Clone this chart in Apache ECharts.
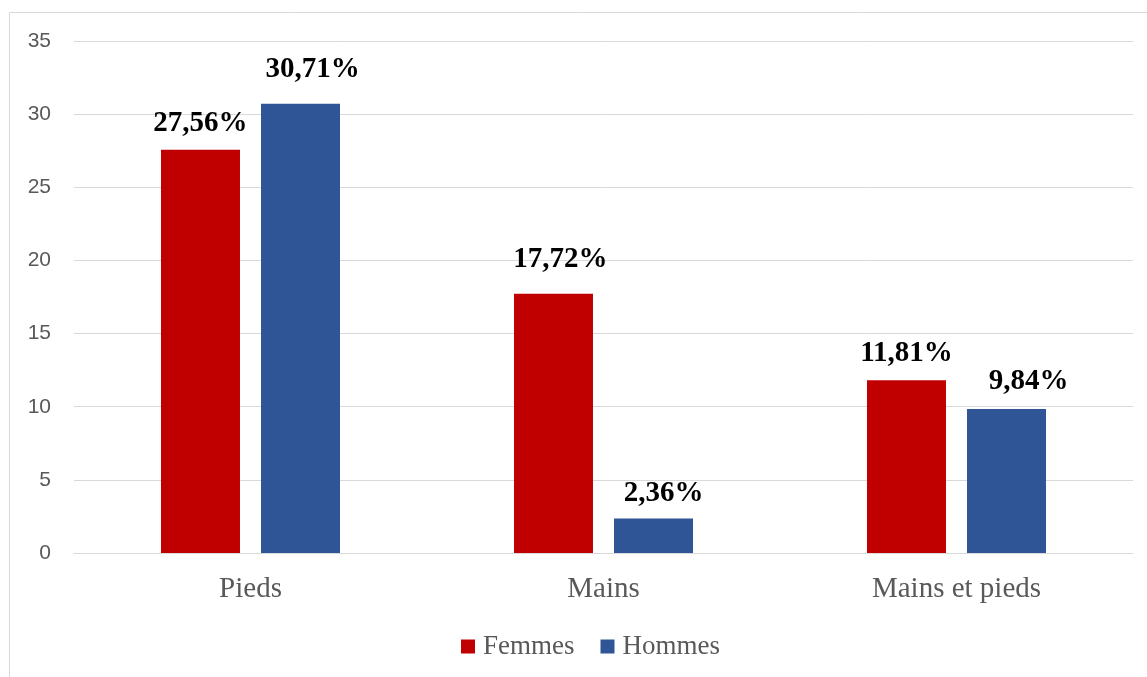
<!DOCTYPE html>
<html>
<head>
<meta charset="utf-8">
<script src="https://cdn.jsdelivr.net/npm/echarts@6/dist/echarts.min.js"></script>
<style>html,body{margin:0;padding:0;background:#fff;}#c{width:1147px;height:677px;}</style>
</head>
<body>
<div id="c"></div>
<script>
const categories = ['Pieds', 'Mains', 'Mains et pieds'];
const femmes = [27.56, 17.72, 11.81];
const hommes = [30.71, 2.36, 9.84];
const seriesNames = ['Femmes', 'Hommes'];
const yTicks = { min: 0, max: 35, interval: 5 };

// label nudges (styling, as placed in the original)
const femmesLabelShift = [[0, 0], [7, -8], [0, 0]];
const hommesLabelShift = [[12, -8], [10, 2], [22, -1]];

const chart = echarts.init(document.getElementById('c'));
const fmt = p => p.value.toFixed(2).replace('.', ',') + '%';
const labelStyle = {
  show: true, position: 'top', distance: 12, formatter: fmt,
  fontFamily: '"Liberation Serif","Times New Roman",serif', fontWeight: 'bold',
  fontSize: 29, color: '#000'
};
const build = (vals, shifts) => vals.map((v, i) => ({ value: v, label: { offset: shifts[i] } }));
chart.setOption({
  animation: false,
  graphic: [{
    type: 'rect', silent: true,
    shape: { x: 9.5, y: 12.5, width: 1300, height: 800 },
    style: { fill: 'none', stroke: '#d9d9d9', lineWidth: 1 }
  }],
  grid: { left: 74, right: 14, top: 41, bottom: 124, containLabel: false },
  legend: {
    data: seriesNames, bottom: 12, left: 456,
    itemWidth: 14, itemHeight: 14, itemGap: 26, icon: 'rect',
    textStyle: { fontFamily: '"Liberation Serif","Times New Roman",serif', fontSize: 27, color: '#595959', padding: [0, 0, 0, 3] }
  },
  xAxis: {
    type: 'category', data: categories,
    axisLine: { show: true, lineStyle: { color: '#d9d9d9', width: 1 } },
    axisTick: { show: false },
    axisLabel: { margin: 22, fontFamily: '"Liberation Serif","Times New Roman",serif', fontSize: 29, color: '#595959' }
  },
  yAxis: {
    type: 'value', min: yTicks.min, max: yTicks.max, interval: yTicks.interval,
    axisLine: { show: false }, axisTick: { show: false },
    splitLine: { lineStyle: { color: '#d9d9d9', width: 1 } },
    axisLabel: { margin: 23, fontFamily: '"Liberation Sans","Open Sans",sans-serif', fontSize: 21, color: '#595959' }
  },
  series: [
    { name: seriesNames[0], type: 'bar', data: build(femmes, femmesLabelShift), barWidth: 79, barGap: '26.6%', itemStyle: { color: '#C00000' }, label: labelStyle },
    { name: seriesNames[1], type: 'bar', data: build(hommes, hommesLabelShift), barWidth: 79, barGap: '26.6%', itemStyle: { color: '#2F5597' }, label: labelStyle }
  ]
});
</script>
</body>
</html>
